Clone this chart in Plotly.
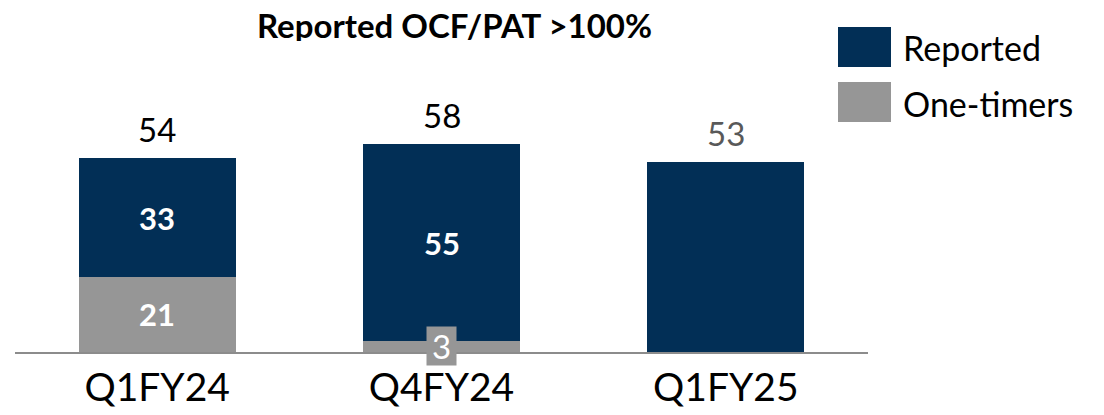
import plotly.graph_objects as go

categories = ["Q1FY24", "Q4FY24", "Q1FY25"]
one_timers = [21, 3, 0]
reported = [33, 55, 53]
totals = [54, 58, 53]
title_text = "Reported OCF/PAT >100%"
legend_names = ["Reported", "One-timers"]

NAVY = "#022f56"
GRAY = "#969696"
FONT = "Lato"

W, H = 1104, 415
# target pixel positions in the screenshot
PLOT_L, PLOT_R, PLOT_T, PLOT_B = 15, 868, 101, 352
ml, mr = PLOT_L, W - PLOT_R
mt, mb = PLOT_T, H - PLOT_B
pw, ph = W - ml - mr, H - mt - mb


def px_x(x):
    return (x - PLOT_L) / pw


def px_y(y):
    return 1 - (y - PLOT_T) / ph


fig = go.Figure()
fig.add_trace(go.Bar(x=categories, y=one_timers, marker_color=GRAY, marker_line_width=0,
                     name="One-timers", width=0.552, showlegend=False, hoverinfo="skip"))
fig.add_trace(go.Bar(x=categories, y=reported, marker_color=NAVY, marker_line_width=0,
                     name="Reported", width=0.552, showlegend=False, hoverinfo="skip"))

ann = []
for i, c in enumerate(categories):
    if reported[i] > 0 and one_timers[i] > 0:
        ann.append(dict(x=c, y=one_timers[i] + reported[i] / 2, text="<b>" + str(reported[i]) + "</b>",
                        showarrow=False, font=dict(color="white", size=31, family=FONT)))
    if one_timers[i] >= 10:
        ann.append(dict(x=c, y=one_timers[i] / 2, text="<b>" + str(one_timers[i]) + "</b>",
                        showarrow=False, font=dict(color="white", size=31, family=FONT)))
    elif one_timers[i] > 0:
        ann.append(dict(x=c, y=one_timers[i] / 2, text=str(one_timers[i]), showarrow=False,
                        font=dict(color="white", size=33, family=FONT), bgcolor=GRAY,
                        borderpad=1, width=27, height=36, yshift=1))
    col = "#595959" if one_timers[i] == 0 else "black"
    ann.append(dict(x=c, y=totals[i], text=str(totals[i]), showarrow=False, yanchor="bottom",
                    yshift=7, font=dict(color=col, size=33, family=FONT)))

ann.append(dict(xref="paper", yref="paper", x=px_x(454), y=px_y(25), text="<b>" + title_text + "</b>",
                showarrow=False, xanchor="center", yanchor="middle", height=32, borderpad=0,
                font=dict(size=33, family=FONT, color="black")))

legend_boxes = [(NAVY, 27, 67), (GRAY, 82, 122)]
shapes = []
for name, (color, y0, y1) in zip(legend_names, legend_boxes):
    shapes.append(dict(type="rect", xref="paper", yref="paper", x0=px_x(838), x1=px_x(891),
                       y0=px_y(y1), y1=px_y(y0), fillcolor=color, line_width=0, layer="above"))
    ann.append(dict(xref="paper", yref="paper", x=px_x(901), y=px_y((y0 + y1) / 2 + 1), text=name,
                    showarrow=False, xanchor="left", yanchor="middle",
                    font=dict(size=34, family=FONT, color="black")))

fig.update_layout(
    annotations=ann,
    shapes=shapes,
    barmode="stack",
    width=W, height=H,
    margin=dict(l=ml, r=mr, t=mt, b=mb, pad=0, autoexpand=False),
    plot_bgcolor="white", paper_bgcolor="white",
    xaxis=dict(range=[-0.5, 2.5], showline=True, linecolor="#8c8c8c", linewidth=2,
               ticks="", tickfont=dict(size=39, family=FONT, color="black"), automargin=False,
               ticklabelstandoff=0, showgrid=False, zeroline=False),
    yaxis=dict(range=[0, 70], visible=False, showgrid=False, zeroline=False, automargin=False),
    showlegend=False,
)

fig.write_html("out.html", config={"displayModeBar": False},
               post_script="document.body.style.margin='0';")
